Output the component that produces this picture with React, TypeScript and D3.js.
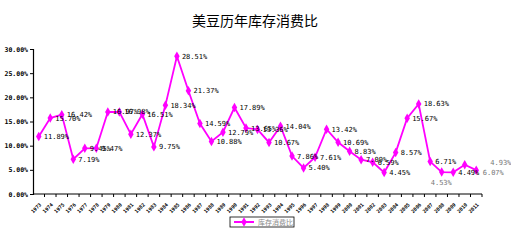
import React, { useEffect, useRef } from 'react';
import * as d3 from 'd3';

const years = [
  '1973', '1974', '1975', '1976', '1977', '1978', '1979', '1980', '1981', '1982',
  '1983', '1984', '1985', '1986', '1987', '1988', '1989', '1990', '1991', '1992',
  '1993', '1994', '1995', '1996', '1997', '1998', '1999', '2000', '2001', '2002',
  '2003', '2004', '2005', '2006', '2007', '2008', '2009', '2010', '2011'
];

const ratios = [
  11.89, 15.70, 16.42, 7.19, 9.45, 9.47, 16.97, 16.98, 12.37, 16.51,
  9.75, 18.34, 28.51, 21.37, 14.59, 10.88, 12.79, 17.89, 13.65, 13.36,
  10.67, 14.04, 7.86, 5.40, 7.61, 13.42, 10.69, 8.83, 7.09, 6.59,
  4.45, 8.57, 15.67, 18.63, 6.71, 4.53, 4.49, 6.07, 4.93
];

const yTicks = [0, 5, 10, 15, 20, 25, 30];

const title = '美豆历年库存消费比';
const seriesName = '库存消费比';

// a few labels were dragged off the default right-hand spot in the original
const labelShift: Record<number, [number, number]> = {
  35: [-16, 10],
  37: [13, 8],
  38: [9, -8],
};

const W = 511;
const H = 244;
const MONO = '"DejaVu Sans Mono", monospace';
const CJK = '"Noto Sans CJK SC", sans-serif';
const LINE = '#ff00ff';

const Chart: React.FC = () => {
  const svgRef = useRef<SVGSVGElement>(null);

  useEffect(() => {
    const svg = d3.select(svgRef.current);
    svg.selectAll('*').remove();

    const margin = { top: 49, right: 29, bottom: 50, left: 33 };
    const innerWidth = W - margin.left - margin.right;
    const innerHeight = H - margin.top - margin.bottom;

    svg.append('rect').attr('width', W).attr('height', H).attr('fill', '#fff');

    // Title
    svg.append('text')
      .attr('x', 255)
      .attr('y', 26)
      .attr('text-anchor', 'middle')
      .style('font-family', CJK)
      .style('font-size', '14px')
      .style('fill', '#000')
      .text(title);

    const g = svg.append('g')
      .attr('transform', `translate(${margin.left},${margin.top})`);

    const xScale = d3.scaleBand()
      .domain(years)
      .range([0, innerWidth]);

    const yScale = d3.scaleLinear()
      .domain([0, 30])
      .range([innerHeight, 0]);

    // Y axis
    const yAxis = g.append('g')
      .call(d3.axisLeft(yScale).tickValues(yTicks).tickSize(3).tickFormat(d => `${(+d).toFixed(2)}%`));
    yAxis.select('.domain').attr('stroke', '#000').attr('stroke-width', 1.2);
    yAxis.selectAll('line').attr('stroke', '#000');
    yAxis.selectAll('text')
      .attr('x', -5)
      .style('font-family', MONO)
      .style('font-size', '6.5px')
      .style('font-weight', 'bold')
      .style('fill', '#000');

    // X axis, ticks sit between categories
    const xg = g.append('g').attr('transform', `translate(0,${innerHeight})`);
    xg.append('line')
      .attr('x1', 0).attr('x2', innerWidth)
      .attr('stroke', '#000').attr('stroke-width', 1.2);
    xg.selectAll('.tick-mark')
      .data(years)
      .enter()
      .append('line')
      .attr('class', 'tick-mark')
      .attr('x1', d => (xScale(d) || 0) + xScale.bandwidth())
      .attr('x2', d => (xScale(d) || 0) + xScale.bandwidth())
      .attr('y1', 0).attr('y2', 3)
      .attr('stroke', '#000');
    xg.selectAll('.x-label')
      .data(years)
      .enter()
      .append('text')
      .attr('class', 'x-label')
      .attr('transform', d => `translate(${(xScale(d) || 0) + xScale.bandwidth() / 2 + 3},${11}) rotate(-45)`)
      .attr('text-anchor', 'end')
      .style('font-family', MONO)
      .style('font-size', '5px')
      .style('font-weight', 'bold')
      .style('fill', '#000')
      .text(d => d);

    const cx = (i: number) => (xScale(years[i]) || 0) + xScale.bandwidth() / 2;

    // Line
    const line = d3.line<number>()
      .x((_, i) => cx(i))
      .y(d => yScale(d));

    g.append('path')
      .datum(ratios)
      .attr('fill', 'none')
      .attr('stroke', LINE)
      .attr('stroke-width', 1.8)
      .attr('d', line);

    const diamond = d3.symbol().type(d3.symbolDiamond).size(26);

    g.selectAll('.marker')
      .data(ratios)
      .enter()
      .append('path')
      .attr('class', 'marker')
      .attr('d', diamond)
      .attr('transform', (d, i) => `translate(${cx(i)},${yScale(d)})`)
      .attr('fill', LINE);

    // Data labels
    g.selectAll('.value-label')
      .data(ratios)
      .enter()
      .append('text')
      .attr('class', 'value-label')
      .attr('x', (d, i) => cx(i) + 5 + (labelShift[i] ? labelShift[i][0] : 0))
      .attr('y', (d, i) => yScale(d) + 2.5 + (labelShift[i] ? labelShift[i][1] : 0))
      .style('font-family', MONO)
      .style('font-size', '7px')
      .style('fill', (d, i) => (labelShift[i] ? '#777' : '#000'))
      .text(d => `${d.toFixed(2)}%`);

    // Legend
    const legend = svg.append('g').attr('transform', 'translate(230,217)');
    legend.append('rect')
      .attr('width', 64)
      .attr('height', 10)
      .attr('fill', '#fff')
      .attr('stroke', '#000')
      .attr('stroke-width', 0.8);
    legend.append('line')
      .attr('x1', 4).attr('x2', 24)
      .attr('y1', 5).attr('y2', 5)
      .attr('stroke', LINE)
      .attr('stroke-width', 2);
    legend.append('path')
      .attr('d', diamond)
      .attr('transform', 'translate(14,5)')
      .attr('fill', LINE);
    legend.append('text')
      .attr('x', 28)
      .attr('y', 8)
      .style('font-family', CJK)
      .style('font-size', '7px')
      .style('fill', '#888')
      .text(seriesName);
  }, []);

  return <svg ref={svgRef} width={W} height={H} style={{ display: 'block' }} />;
};

export default function App() {
  return (
    <div style={{ position: 'fixed', left: 0, top: 0, width: W, height: H, background: '#fff' }}>
      <Chart />
    </div>
  );
}
